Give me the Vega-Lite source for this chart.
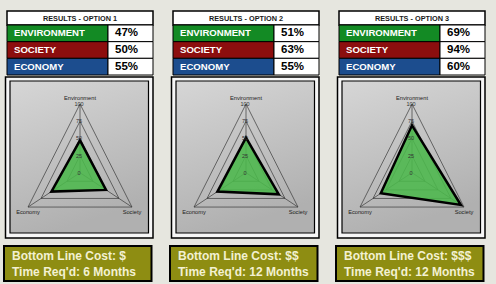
{
  "$schema": "https://vega.github.io/schema/vega-lite/v6.json",
  "background": "#e6e6df",
  "padding": {"left": 3, "top": 10, "right": 9.5, "bottom": 3},
  "config": {"view": {"stroke": null}, "font": "Liberation Sans"},
  "data": {
    "values": [
      {"option": "Option 1", "metric": "Environment", "value": 47, "cost": "$", "time": "6 Months"},
      {"option": "Option 1", "metric": "Society", "value": 50, "cost": "$", "time": "6 Months"},
      {"option": "Option 1", "metric": "Economy", "value": 55, "cost": "$", "time": "6 Months"},
      {"option": "Option 2", "metric": "Environment", "value": 51, "cost": "$$", "time": "12 Months"},
      {"option": "Option 2", "metric": "Society", "value": 63, "cost": "$$", "time": "12 Months"},
      {"option": "Option 2", "metric": "Economy", "value": 55, "cost": "$$", "time": "12 Months"},
      {"option": "Option 3", "metric": "Environment", "value": 69, "cost": "$$$", "time": "12 Months"},
      {"option": "Option 3", "metric": "Society", "value": 94, "cost": "$$$", "time": "12 Months"},
      {"option": "Option 3", "metric": "Economy", "value": 60, "cost": "$$$", "time": "12 Months"}
    ]
  },
  "transform": [
    {"calculate": "'RESULTS - ' + upper(datum.option)", "as": "title"},
    {"calculate": "upper(datum.metric)", "as": "label"},
    {"calculate": "datum.value + '%'", "as": "pct"},
    {"calculate": "'Bottom Line Cost: ' + datum.cost", "as": "line1"},
    {"calculate": "'Time Req\\'d: ' + datum.time", "as": "line2"},
    {"calculate": "indexof(['Environment','Society','Economy'], datum.metric) * 2 * PI / 3", "as": "angle"},
    {"calculate": "datum.value * sin(datum.angle)", "as": "px"},
    {"calculate": "datum.value * cos(datum.angle)", "as": "py"},
    {"calculate": "100 * sin(datum.angle)", "as": "ex"},
    {"calculate": "100 * cos(datum.angle)", "as": "ey"}
  ],
  "facet": {"column": {"field": "option", "type": "nominal", "header": {"labels": false, "title": null}}},
  "spacing": 20,
  "bounds": "flush",
  "spec": {
    "width": 146,
    "height": 270,
    "resolve": {"scale": {"x": "independent", "y": "independent"}},
    "layer": [
      {
        "transform": [{"filter": "datum.metric === 'Environment'"}],
        "layer": [
          {
            "mark": {"type": "rect", "fill": "white", "stroke": "black", "strokeWidth": 1.5},
            "encoding": {"x": {"value": 0}, "x2": {"value": 146}, "y": {"value": 0}, "y2": {"value": 14}}
          },
          {
            "mark": {"type": "text", "align": "center", "baseline": "middle", "fontWeight": "bold", "fontSize": 7.3, "fill": "#1a1a1a"},
            "encoding": {"x": {"value": 73}, "y": {"value": 7.5}, "text": {"field": "title", "type": "nominal"}}
          },
          {
            "mark": {"type": "rect", "fill": "#f6f6f6", "stroke": "black", "strokeWidth": 1.5},
            "encoding": {"x": {"value": -1.5}, "x2": {"value": 146}, "y": {"value": 66}, "y2": {"value": 227}}
          },
          {
            "mark": {
              "type": "rect", "stroke": "black", "strokeWidth": 1.2,
              "fill": {"gradient": "linear", "x1": 0, "y1": 0, "x2": 0.3, "y2": 1, "stops": [{"offset": 0, "color": "#d6d6d6"}, {"offset": 1, "color": "#b0b0b0"}]}
            },
            "encoding": {"x": {"value": 3}, "x2": {"value": 141.5}, "y": {"value": 70}, "y2": {"value": 222}}
          },
          {
            "mark": {"type": "rect", "fill": "#8e8d12", "stroke": "black", "strokeWidth": 2},
            "encoding": {"x": {"value": -3}, "x2": {"value": 144.5}, "y": {"value": 235}, "y2": {"value": 270}}
          },
          {
            "mark": {"type": "text", "align": "left", "baseline": "alphabetic", "fontWeight": "bold", "fontSize": 12, "fill": "#f3f1d2"},
            "encoding": {"x": {"value": 5}, "y": {"value": 249}, "text": {"field": "line1", "type": "nominal"}}
          },
          {
            "mark": {"type": "text", "align": "left", "baseline": "alphabetic", "fontWeight": "bold", "fontSize": 12, "fill": "#f3f1d2"},
            "encoding": {"x": {"value": 5}, "y": {"value": 264.5}, "text": {"field": "line2", "type": "nominal"}}
          }
        ]
      },
      {
        "encoding": {
          "y": {"field": "metric", "type": "nominal", "sort": ["Environment", "Society", "Economy"], "scale": {"range": [14, 64], "paddingInner": 0, "paddingOuter": 0}, "axis": null}
        },
        "layer": [
          {
            "mark": {"type": "rect", "stroke": "black", "strokeWidth": 1},
            "encoding": {
              "x": {"value": 0},
              "x2": {"value": 101},
              "color": {"field": "metric", "type": "nominal", "scale": {"domain": ["Environment", "Society", "Economy"], "range": ["#138a24", "#8c0e0e", "#1c4d8e"]}, "legend": null}
            }
          },
          {
            "mark": {"type": "rect", "fill": "white", "stroke": "black", "strokeWidth": 1},
            "encoding": {"x": {"value": 101}, "x2": {"value": 146}}
          },
          {
            "mark": {"type": "text", "align": "left", "baseline": "middle", "fontWeight": "bold", "fontSize": 9.6, "fill": "white"},
            "encoding": {"x": {"value": 7}, "text": {"field": "label", "type": "nominal"}}
          },
          {
            "mark": {"type": "text", "align": "left", "baseline": "middle", "fontWeight": "bold", "fontSize": 11.5, "fill": "black"},
            "encoding": {"x": {"value": 108}, "text": {"field": "pct", "type": "nominal"}}
          }
        ]
      },
      {
        "layer": [
          {
            "transform": [
              {"calculate": "[25, 50, 75, 100]", "as": "levels"},
              {"flatten": ["levels"], "as": ["level"]},
              {"calculate": "datum.level * sin(datum.angle)", "as": "gx"},
              {"calculate": "datum.level * cos(datum.angle)", "as": "gy"}
            ],
            "mark": {"type": "line", "interpolate": "linear-closed", "stroke": "#3a3a3a", "strokeWidth": 0.7},
            "encoding": {
              "x": {"field": "gx", "type": "quantitative", "scale": {"domain": [-100, 100], "range": [12.96, 133.04], "nice": false, "zero": false}, "axis": null},
              "y": {"field": "gy", "type": "quantitative", "scale": {"domain": [-100, 100], "range": [230.4, 93], "nice": false, "zero": false}, "axis": null},
              "detail": {"field": "level", "type": "nominal"},
              "order": {"field": "angle", "type": "quantitative"}
            }
          },
          {
            "transform": [
              {"calculate": "[0, 100]", "as": "ends"},
              {"flatten": ["ends"], "as": ["r"]},
              {"calculate": "datum.r * sin(datum.angle)", "as": "sx"},
              {"calculate": "datum.r * cos(datum.angle)", "as": "sy"}
            ],
            "mark": {"type": "line", "stroke": "#3a3a3a", "strokeWidth": 0.7},
            "encoding": {
              "x": {"field": "sx", "type": "quantitative", "scale": {"domain": [-100, 100], "range": [12.96, 133.04], "nice": false, "zero": false}, "axis": null},
              "y": {"field": "sy", "type": "quantitative", "scale": {"domain": [-100, 100], "range": [230.4, 93], "nice": false, "zero": false}, "axis": null},
              "detail": {"field": "metric", "type": "nominal"},
              "order": {"field": "r", "type": "quantitative"}
            }
          },
          {
            "mark": {"type": "line", "interpolate": "linear-closed", "fill": "#4cb84c", "fillOpacity": 0.88, "stroke": "black", "strokeWidth": 2.5, "strokeJoin": "miter"},
            "encoding": {
              "x": {"field": "px", "type": "quantitative", "scale": {"domain": [-100, 100], "range": [12.96, 133.04], "nice": false, "zero": false}, "axis": null},
              "y": {"field": "py", "type": "quantitative", "scale": {"domain": [-100, 100], "range": [230.4, 93], "nice": false, "zero": false}, "axis": null},
              "order": {"field": "angle", "type": "quantitative"}
            }
          },
          {
            "transform": [
              {"filter": "datum.metric === 'Environment'"},
              {"calculate": "[0, 25, 50, 75, 100]", "as": "ticks"},
              {"flatten": ["ticks"], "as": ["tick"]},
              {"calculate": "datum.tick * sin(datum.angle)", "as": "tx"}
            ],
            "mark": {"type": "text", "fontSize": 5.5, "fill": "#333333", "align": "center", "baseline": "middle", "dx": -1},
            "encoding": {
              "x": {"field": "tx", "type": "quantitative", "scale": {"domain": [-100, 100], "range": [12.96, 133.04], "nice": false, "zero": false}, "axis": null},
              "y": {"field": "tick", "type": "quantitative", "scale": {"domain": [-100, 100], "range": [230.4, 93], "nice": false, "zero": false}, "axis": null},
              "text": {"field": "tick", "type": "quantitative"}
            }
          },
          {
            "transform": [{"filter": "datum.metric === 'Environment'"}],
            "mark": {"type": "text", "fontSize": 5.7, "fill": "#222222", "align": "center", "baseline": "alphabetic", "dy": -4},
            "encoding": {
              "x": {"field": "ex", "type": "quantitative", "scale": {"domain": [-100, 100], "range": [12.96, 133.04], "nice": false, "zero": false}, "axis": null},
              "y": {"field": "ey", "type": "quantitative", "scale": {"domain": [-100, 100], "range": [230.4, 93], "nice": false, "zero": false}, "axis": null},
              "text": {"field": "metric", "type": "nominal"}
            }
          },
          {
            "transform": [{"filter": "datum.metric !== 'Environment'"}],
            "mark": {"type": "text", "fontSize": 5.7, "fill": "#222222", "align": "center", "baseline": "top", "dy": 2},
            "encoding": {
              "x": {"field": "ex", "type": "quantitative", "scale": {"domain": [-100, 100], "range": [12.96, 133.04], "nice": false, "zero": false}, "axis": null},
              "y": {"field": "ey", "type": "quantitative", "scale": {"domain": [-100, 100], "range": [230.4, 93], "nice": false, "zero": false}, "axis": null},
              "text": {"field": "metric", "type": "nominal"}
            }
          }
        ]
      }
    ]
  }
}
